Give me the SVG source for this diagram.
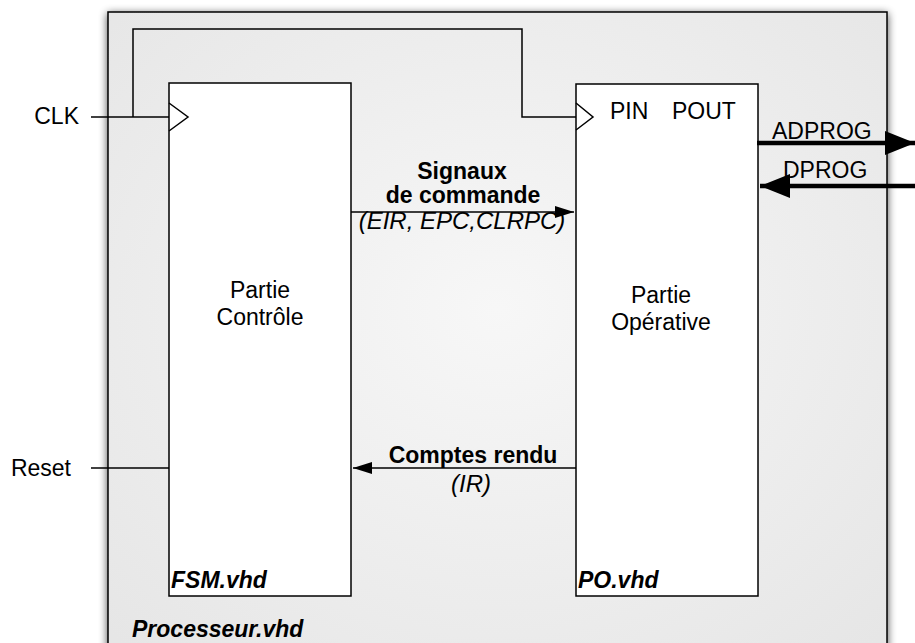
<svg xmlns="http://www.w3.org/2000/svg" width="915" height="643" viewBox="0 0 915 643">
  <defs>
    <radialGradient id="bg" cx="0.5" cy="0.45" r="0.7">
      <stop offset="0" stop-color="#f7f7f7"/>
      <stop offset="1" stop-color="#e6e6e6"/>
    </radialGradient>
    <filter id="shadow" x="-5%" y="-5%" width="110%" height="110%">
      <feGaussianBlur in="SourceAlpha" stdDeviation="4"/>
      <feOffset dx="0" dy="2" result="b"/>
      <feComponentTransfer><feFuncA type="linear" slope="0.7"/></feComponentTransfer>
      <feMerge><feMergeNode/><feMergeNode in="SourceGraphic"/></feMerge>
    </filter>
    <marker id="arr" markerUnits="userSpaceOnUse" markerWidth="19" markerHeight="12" refX="19" refY="6" orient="auto">
      <path d="M0,0 L19,6 L0,12 Z" fill="#000"/>
    </marker>
    <marker id="arrBig" markerUnits="userSpaceOnUse" markerWidth="30" markerHeight="24" refX="30" refY="12" orient="auto">
      <path d="M0,0 L30,12 L0,24 Z" fill="#000"/>
    </marker>
  </defs>
  <style>
    text { font-family: "Liberation Sans", Arial, Helvetica, sans-serif; font-size: 23px; fill: #000; }
    .b { font-weight: bold; }
    .i { font-style: italic; font-size: 24px; }
    .bi { font-weight: bold; font-style: italic; }
    .m { text-anchor: middle; }
    .e { text-anchor: end; }
    .box { fill: #fff; stroke: #000; stroke-width: 1.5; }
    .w { fill: none; stroke: #000; stroke-width: 1.5; }
    .thick { fill: none; stroke: #000; stroke-width: 4.5; }
  </style>
  <rect width="915" height="643" fill="#fff"/>

  <g id="processeur">
    <rect x="108" y="12" width="779" height="660" fill="url(#bg)" stroke="#000" stroke-width="1.5" filter="url(#shadow)"/>
    <text x="132" y="637" class="bi">Processeur.vhd</text>
  </g>

  <g id="fsm">
    <rect class="box" x="169" y="83" width="182" height="513"/>
    <polyline class="w" points="169,103 188,117 169,131"/>
    <text x="260" y="298" class="m">Partie</text>
    <text x="260" y="325" class="m">Contrôle</text>
    <text x="171" y="588" class="bi">FSM.vhd</text>
  </g>

  <g id="po">
    <rect class="box" x="576" y="84" width="182" height="512"/>
    <polyline class="w" points="576,103 593,117 576,130"/>
    <text x="610" y="119">PIN</text>
    <text x="672" y="119">POUT</text>
    <text x="661" y="303" class="m">Partie</text>
    <text x="661" y="330" class="m">Opérative</text>
    <text x="578" y="588" class="bi">PO.vhd</text>
  </g>

  <g id="connectors">
    <line class="w" x1="91" y1="117" x2="169" y2="117"/>
    <polyline class="w" points="133,117 133,29 522,29 522,117 576,117"/>
    <line class="w" x1="91" y1="468" x2="169" y2="468"/>
    <line class="w" x1="351" y1="212" x2="574" y2="212" marker-end="url(#arr)"/>
    <line class="w" x1="576" y1="468" x2="353" y2="468" marker-end="url(#arr)"/>
    <line class="thick" x1="757" y1="143" x2="915" y2="143" marker-end="url(#arrBig)"/>
    <line class="thick" x1="915" y1="186" x2="760" y2="186" marker-end="url(#arrBig)"/>
  </g>

  <g id="labels">
    <text x="79" y="124" class="e">CLK</text>
    <text x="71" y="476" class="e">Reset</text>
    <text x="772" y="139">ADPROG</text>
    <text x="783" y="178">DPROG</text>
    <text x="462" y="179" class="b m">Signaux</text>
    <text x="463" y="203" class="b m">de commande</text>
    <text x="462" y="229" class="i m">(EIR, EPC,CLRPC)</text>
    <text x="473" y="463" class="b m">Comptes rendu</text>
    <text x="471" y="492" class="i m">(IR)</text>
  </g>
</svg>
